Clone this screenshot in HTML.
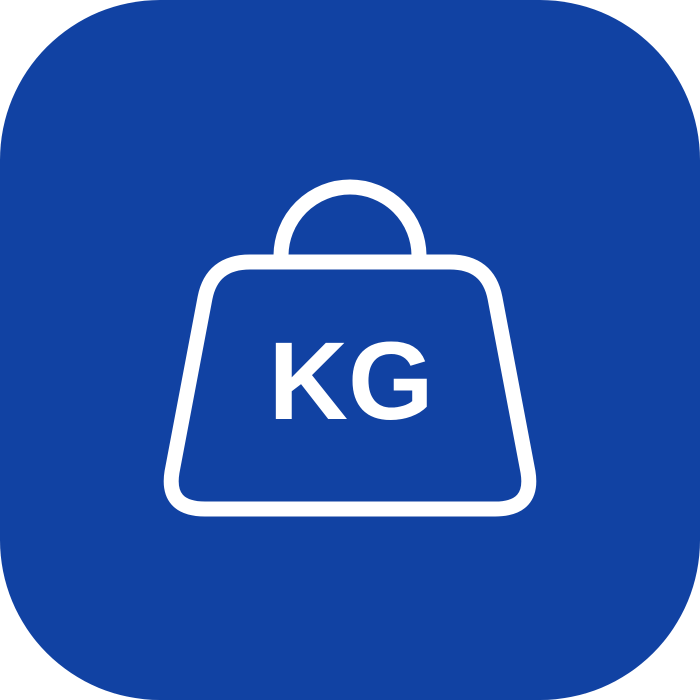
<!DOCTYPE html>
<html>
<head>
<meta charset="utf-8">
<style>
  html,body{margin:0;padding:0;background:#fff;}
  svg{display:block;}
</style>
</head>
<body>
<svg width="700" height="700" viewBox="0 0 700 700">
  <rect x="0" y="0" width="700" height="700" rx="160" ry="160" fill="#1142a3"/>
  <path d="M 281 256 A 69 69 0 0 1 419 256" fill="none" stroke="#fff" stroke-width="15"/>
  <path d="M 250 262 H 450 Q 488 262 495 298 L 528 472 Q 534 509 495 509 H 205 Q 166 509 172 472 L 205 298 Q 212 262 250 262 Z" fill="none" stroke="#fff" stroke-width="15" stroke-linejoin="round"/>
  <text x="351" y="419" text-anchor="middle" font-family="Liberation Sans, sans-serif" font-weight="bold" font-size="110" fill="#fff">KG</text>
</svg>
</body>
</html>
